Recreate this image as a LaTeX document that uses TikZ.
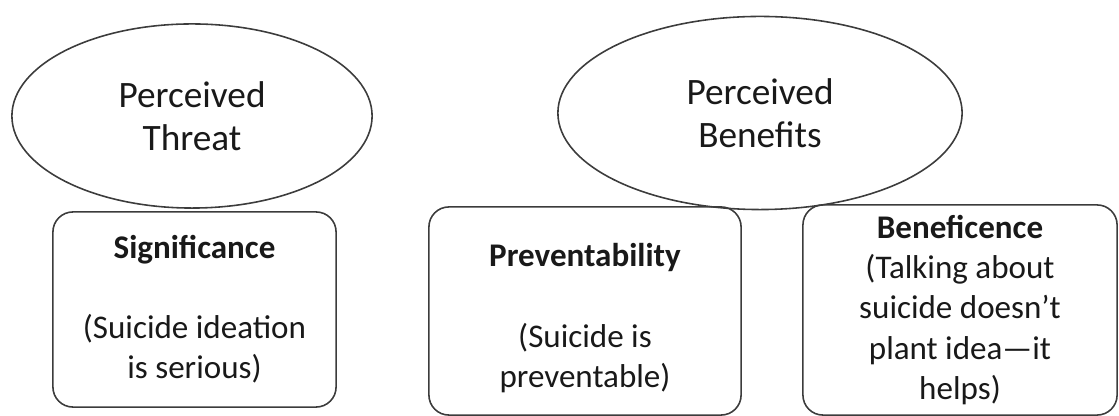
\documentclass[tikz,border=0pt]{standalone}
\usepackage{fontspec}
\setmainfont{Carlito}
\usepackage{xcolor}
\definecolor{hbmline}{RGB}{60,60,60}
\definecolor{hbmtext}{RGB}{25,25,25}
\usepackage{tikz}
\usetikzlibrary{shapes.geometric}
\tikzset{
  construct/.style={ellipse, draw=hbmline, line width=0.45pt, inner sep=0pt, align=center, text=hbmtext, font=\fontsize{10.6}{12.3}\selectfont},
  factor/.style={rectangle, rounded corners=0.2cm, draw=hbmline, line width=0.45pt, inner sep=0pt, align=center, text=hbmtext, font=\fontsize{9.4}{11.4}\selectfont}
}

\begin{document}
\begin{tikzpicture}[x=0.01cm, y=-0.01cm]
  \useasboundingbox (0,0) rectangle (1119,416);

  % --- Perceived threat ---
  \node[construct, minimum width=3.6cm, minimum height=1.84cm] (threat) at (192,116) {Perceived\\Threat};
  \node[factor, minimum width=2.83cm, minimum height=1.95cm] (signif) at (194.5,309.5)
    {\textbf{Significance}\\[11.4pt](Suicide ideation\\is serious)};

  % --- Perceived benefits ---
  \node[construct, minimum width=4.04cm, minimum height=1.93cm] (benefits) at (760,113) {Perceived\\Benefits};
  \node[factor, minimum width=3.12cm, minimum height=2.08cm] (prevent) at (585,311)
    {\rule{0pt}{10.6pt}\textbf{Preventability}\\[11.4pt](Suicide is\\preventable)};
  \node[factor, minimum width=3.14cm, minimum height=2.10cm] (benef) at (960,310)
    {\textbf{Beneficence}\\(Talking about\\suicide doesn’t\\plant idea—it\\helps)};
\end{tikzpicture}
\end{document}
